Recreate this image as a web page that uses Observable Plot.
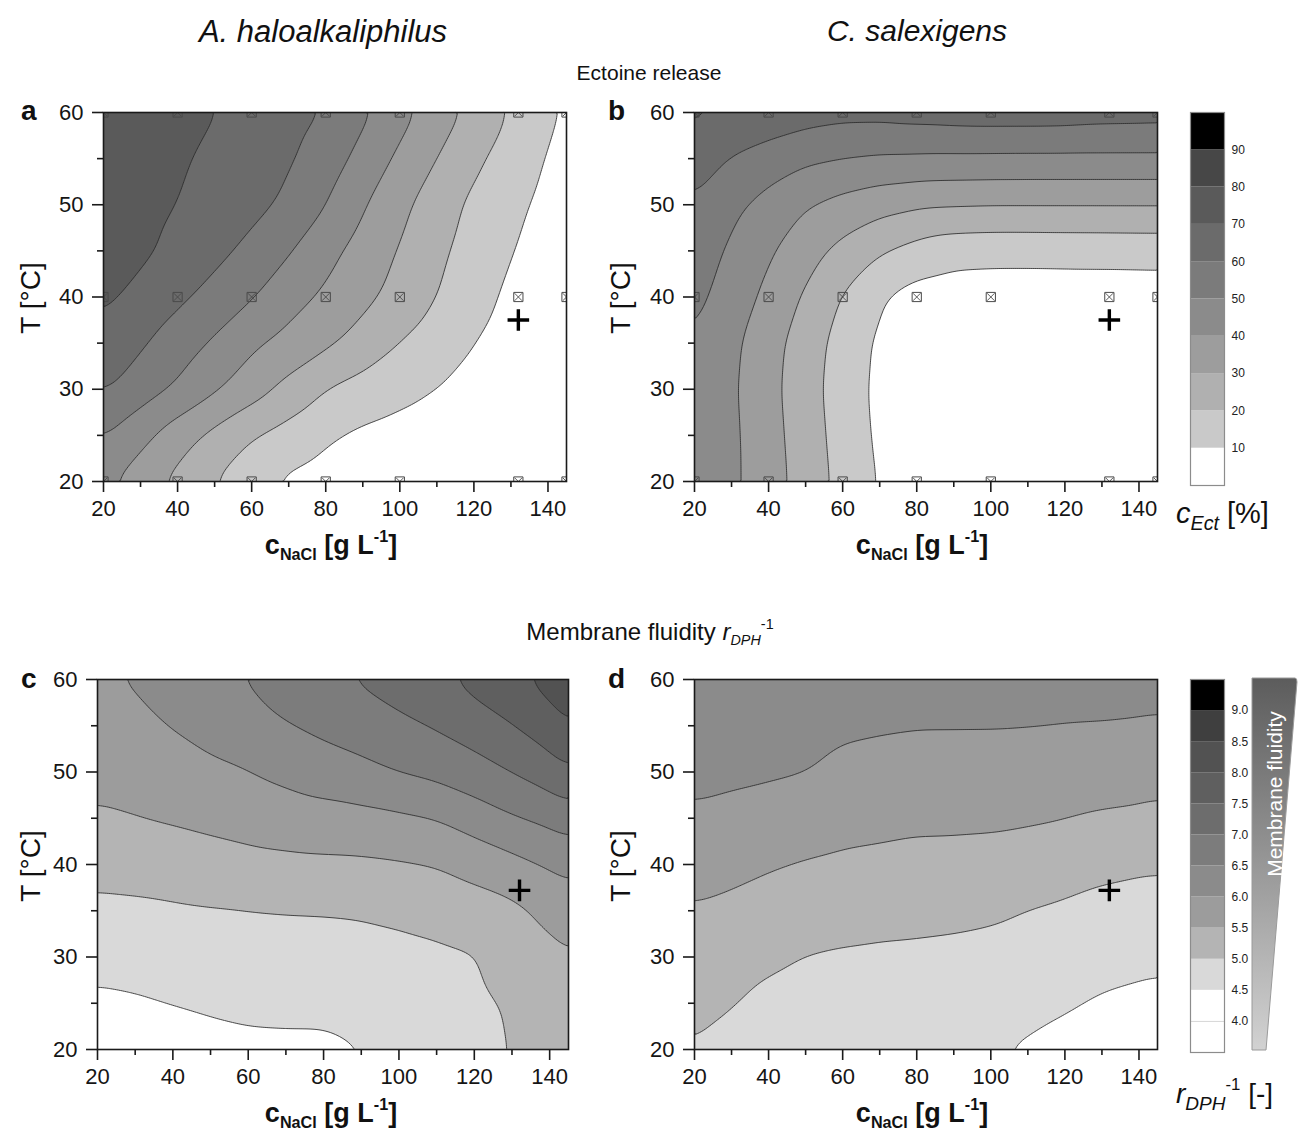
<!DOCTYPE html>
<html>
<head>
<meta charset="utf-8">
<script src="https://cdn.jsdelivr.net/npm/d3@7"></script>
<script src="https://cdn.jsdelivr.net/npm/@observablehq/plot@0.6"></script>
<style>
html,body{margin:0;padding:0;background:#fff;}
#root{position:relative;width:1298px;height:1142px;overflow:hidden;font-family:"Liberation Sans",Arial,Helvetica,sans-serif;color:#111;}
.t{position:absolute;white-space:nowrap;line-height:1;}
.ctr{transform:translateX(-50%);}
.rot{transform:translate(-50%,-50%) rotate(-90deg);}
.sub{font-size:60%;vertical-align:-0.35em;}
.sup{font-size:60%;vertical-align:0.75em;}
.sub7{font-size:68%;vertical-align:-0.35em;}
</style>
</head>
<body>
<div id="root"></div>
<script>
// ---------- data ----------
const xGrid = [20, 30, 40, 50, 60, 70, 80, 90, 100, 110, 120, 130, 140, 145]; // c NaCl [g/L]
const tGrid = [20, 25, 30, 35, 40, 45, 50, 55, 60];                          // T [°C]

// panel a: ectoine release A. haloalkaliphilus [%] (rows = tGrid, cols = xGrid)
const ectA = [
  [42.3, 34.6, 27.1, 19.9, 12.9, 8.0, 6, 5, 4, 3, 2, 1, 0, 0],
  [50.8, 43.0, 34.6, 27.3, 20.7, 15.9, 11.4, 8, 6, 4, 3, 2, 1, 0],
  [61.2, 55.0, 48.6, 41.4, 34.3, 27.0, 19.8, 16.5, 13.2, 9.9, 7, 4, 1, 0],
  [67.5, 61.3, 55.0, 48.7, 42.0, 36.7, 31.9, 26.1, 19.8, 15.0, 10.2, 5.5, 1, 0],
  [72.0, 67.2, 62.1, 56.5, 50.6, 44.2, 38.1, 32.5, 26.5, 19.9, 13.9, 7.9, 1.8, 0],
  [74.0, 72.0, 67.4, 62.8, 57.3, 50.7, 43.1, 36.0, 29.3, 22.1, 16.1, 10.6, 5.0, 2.2],
  [75.5, 73.0, 69.9, 66.3, 62.7, 58.1, 50.2, 40.9, 32.6, 24.7, 17.9, 12.6, 7.4, 4.7],
  [76.0, 74.0, 71.3, 67.9, 64.6, 61.3, 55.2, 46.8, 38.0, 30.0, 22.0, 15.5, 9.4, 6.3],
  [77.0, 75.0, 73.0, 70.3, 67.0, 63.4, 59.8, 52.0, 43.5, 35.2, 27.2, 19.1, 11.7, 8.2]
];
// panel b: ectoine release C. salexigens [%]
const ectB = [
  [48.0, 42.0, 34.4, 25.7, 16.9, 9.0, 5, 3, 2, 2, 2, 2, 2, 2],
  [48.3, 42.0, 33.8, 24.9, 16.0, 8.0, 5, 3, 2, 2, 2, 2, 2, 2],
  [48.6, 41.5, 33.1, 24.1, 15.2, 7.5, 5, 3, 2, 2, 2, 2, 2, 2],
  [49.8, 42.3, 33.9, 25.0, 16.1, 8.0, 6, 5, 5, 5, 5, 5, 5, 5],
  [52.8, 45.4, 37.6, 28.6, 19.4, 10.4, 6, 5, 5, 5, 5, 5, 5, 5],
  [56.1, 48.2, 41.4, 33.8, 27.0, 20.9, 16.3, 13.5, 13.0, 13.0, 13.2, 13.3, 13.5, 13.6],
  [59.2, 52.5, 46.5, 40.6, 36.6, 33.4, 31.3, 30.7, 30.3, 30.3, 30.3, 30.3, 30.3, 30.3],
  [64.9, 59.3, 55.2, 51.7, 49.9, 48.6, 48.4, 48.2, 48.1, 48.0, 48.0, 48.0, 48.0, 48.0],
  [72.0, 68.5, 67.0, 64.5, 63.3, 63.5, 64.5, 65.2, 65.5, 65.5, 65.3, 64.5, 64.3, 64.0]
];
// panel c: membrane fluidity A. haloalkaliphilus [-]
const fluC = [
  [4.17, 4.22, 4.30, 4.36, 4.40, 4.41, 4.41, 4.49, 4.55, 4.60, 4.85, 5.02, 5.15, 5.20],
  [4.41, 4.45, 4.51, 4.56, 4.60, 4.61, 4.61, 4.67, 4.70, 4.75, 4.90, 5.05, 5.25, 5.30],
  [4.65, 4.68, 4.73, 4.76, 4.80, 4.81, 4.81, 4.84, 4.87, 4.91, 4.97, 5.25, 5.35, 5.47],
  [4.89, 4.91, 4.94, 4.97, 4.99, 5.01, 5.02, 5.04, 5.09, 5.16, 5.28, 5.38, 5.61, 5.77],
  [5.16, 5.19, 5.24, 5.30, 5.36, 5.39, 5.41, 5.42, 5.46, 5.52, 5.67, 5.85, 6.05, 6.16],
  [5.44, 5.49, 5.55, 5.62, 5.69, 5.76, 5.82, 5.86, 5.92, 6.01, 6.24, 6.46, 6.62, 6.76],
  [5.63, 5.68, 5.79, 5.91, 5.99, 6.12, 6.25, 6.37, 6.52, 6.63, 6.80, 7.01, 7.28, 7.47],
  [5.78, 5.86, 6.02, 6.16, 6.26, 6.47, 6.62, 6.74, 6.88, 7.05, 7.24, 7.49, 7.77, 8.02],
  [5.94, 6.04, 6.24, 6.40, 6.52, 6.80, 6.91, 7.05, 7.26, 7.37, 7.68, 7.86, 8.20, 8.30]
];
// panel d: membrane fluidity C. salexigens [-]
const fluD = [
  [4.97, 4.84, 4.64, 4.62, 4.62, 4.62, 4.62, 4.58, 4.53, 4.45, 4.35, 4.25, 4.20, 4.18],
  [5.13, 5.03, 4.87, 4.80, 4.78, 4.77, 4.76, 4.74, 4.68, 4.63, 4.55, 4.45, 4.40, 4.37],
  [5.30, 5.21, 5.09, 4.99, 4.95, 4.93, 4.92, 4.90, 4.86, 4.81, 4.74, 4.66, 4.61, 4.59],
  [5.46, 5.40, 5.31, 5.23, 5.18, 5.14, 5.12, 5.10, 5.07, 4.99, 4.93, 4.86, 4.83, 4.81],
  [5.69, 5.62, 5.54, 5.47, 5.42, 5.39, 5.36, 5.35, 5.33, 5.28, 5.20, 5.11, 5.06, 5.05],
  [5.94, 5.88, 5.82, 5.74, 5.66, 5.63, 5.59, 5.59, 5.58, 5.55, 5.51, 5.45, 5.42, 5.38],
  [6.10, 6.08, 6.05, 6.01, 5.90, 5.85, 5.81, 5.81, 5.80, 5.78, 5.75, 5.72, 5.69, 5.67],
  [6.24, 6.22, 6.19, 6.15, 6.06, 6.04, 6.02, 6.02, 6.02, 6.01, 5.99, 5.98, 5.96, 5.94],
  [6.38, 6.36, 6.33, 6.30, 6.25, 6.22, 6.20, 6.20, 6.20, 6.20, 6.20, 6.20, 6.18, 6.17]
];

// contour levels and grey shades
const ectLevels = [10, 20, 30, 40, 50, 60, 70, 80, 90];
const ectColors = ["#ffffff", "#c9c9c9", "#b0b0b0", "#9d9d9d", "#8b8b8b", "#7b7b7b", "#6b6b6b", "#5a5a5a", "#474747", "#000000"];
const ectLegendBands = [0, 10, 20, 30, 40, 50, 60, 70, 80, 90];
const ectLegendLabels = [10, 20, 30, 40, 50, 60, 70, 80, 90];

const fluLevels = [4.5, 5.0, 5.5, 6.0, 6.5, 7.0, 7.5, 8.0, 8.5, 9.0];
const fluColors = ["#ffffff", "#d9d9d9", "#b4b4b4", "#9c9c9c", "#8b8b8b", "#7c7c7c", "#6d6d6d", "#5f5f5f", "#525252", "#3f3f3f", "#000000"];
const fluLegendBands = [3.5, 4.0, 4.5, 5.0, 5.5, 6.0, 6.5, 7.0, 7.5, 8.0, 8.5, 9.0];
const fluLegendLabels = [4.0, 4.5, 5.0, 5.5, 6.0, 6.5, 7.0, 7.5, 8.0, 8.5, 9.0];

// experimental design points (panels a, b) and the optimum marker
const designX = [20, 40, 60, 80, 100, 132, 145];
const designT = [20, 40, 60];
const optX = [132];
const optTtop = [37.5];
const optTbottom = [37.2];

const xMajor = [20, 40, 60, 80, 100, 120, 140];
const xMinor = [30, 50, 70, 90, 110, 130];
const yMajor = [20, 30, 40, 50, 60];
const yMinor = [25, 35, 45, 55];

// ---------- helpers ----------
const root = document.getElementById("root");
const FONT = '"Liberation Sans", Arial, Helvetica, sans-serif';

function addHTML(html, cls, left, top, extra = "") {
  const d = document.createElement("div");
  d.className = "t " + cls;
  d.style.left = left + "px";
  d.style.top = top + "px";
  d.style.cssText += extra;
  d.innerHTML = html;
  root.appendChild(d);
  return d;
}
function place(node, left, top) {
  node.style.position = "absolute";
  node.style.left = left + "px";
  node.style.top = top + "px";
  root.appendChild(node);
}

function gridTable(values) {
  const out = [];
  tGrid.forEach((t, i) => xGrid.forEach((x, j) => out.push({x, t, v: values[i][j]})));
  return out;
}

function panel(values, levels, colors, m, withDesign, optT) {
  const design = [];
  designT.forEach(t => designX.forEach(x => design.push({x, t})));
  const opt = optX.map((x, i) => ({x, t: optT[i]}));
  return Plot.plot({
    width: 620, height: 480,
    marginLeft: m.l, marginRight: m.r, marginTop: m.t, marginBottom: m.b,
    style: {fontFamily: FONT, fontSize: "22px", color: "#151515", background: "transparent", overflow: "visible"},
    x: {domain: [20, 145]},
    y: {domain: [20, 60]},
    color: {type: "threshold", domain: levels, range: colors},
    marks: [
      Plot.contour(gridTable(values), {
        x: "x", y: "t", value: "v", fill: "value",
        thresholds: levels, interpolate: "barycentric", blur: 5,
        stroke: "#2a2a2a", strokeWidth: 0.85
      }),
      withDesign ? Plot.dot(design, {x: "x", y: "t", symbol: "square", r: 5.2, stroke: "#4a4a4a", strokeWidth: 1, fill: "none", clip: true}) : null,
      withDesign ? Plot.dot(design, {x: "x", y: "t", symbol: "times", r: 3.5, stroke: "#4a4a4a", strokeWidth: 0.9, clip: true}) : null,
      Plot.dot(opt, {x: "x", y: "t", symbol: "plus", r: 7, stroke: "#000", strokeWidth: 3.4}),
      Plot.frame({stroke: "#1a1a1a", strokeWidth: 1.6}),
      Plot.axisX({ticks: xMajor, tickSize: 11, tickPadding: 8, label: null, tickFormat: d => d, stroke: "#1a1a1a", strokeWidth: 1.6}),
      Plot.axisX({ticks: xMinor, tickSize: 6, label: null, tickFormat: () => "", stroke: "#1a1a1a", strokeWidth: 1.6}),
      Plot.axisY({ticks: yMajor, tickSize: 11, tickPadding: 9, label: null, tickFormat: d => d, stroke: "#1a1a1a", strokeWidth: 1.6}),
      Plot.axisY({ticks: yMinor, tickSize: 6, label: null, tickFormat: () => "", stroke: "#1a1a1a", strokeWidth: 1.6})
    ]
  });
}

function legend(bands, step, labels, levels, colors, domain, fmt, rules) {
  return Plot.plot({
    width: 100, height: 400,
    marginLeft: 10, marginRight: 56, marginTop: 12, marginBottom: 15,
    style: {fontFamily: FONT, fontSize: "12px", color: "#222", background: "transparent", overflow: "visible"},
    x: {domain: [0, 1], axis: null},
    y: {domain: domain, axis: null},
    color: {type: "threshold", domain: levels, range: colors},
    marks: [
      Plot.rect(bands, {x1: 0, x2: 1, y1: d => d, y2: d => d + step, fill: d => d + step / 2}),
      rules ? Plot.ruleY(rules, {x1: 0, x2: 1, stroke: "#d6d6d6", strokeWidth: 1}) : null,
      Plot.frame({stroke: "#8c8c8c", strokeWidth: 1.2}),
      Plot.text(labels, {x: 1, y: d => d, text: fmt, textAnchor: "start", dx: 7, fill: "#222"})
    ]
  });
}

// ---------- titles ----------
addHTML("A. haloalkaliphilus", "ctr", 323, 16, "font-size:31px;font-style:italic;");
addHTML("C. salexigens", "ctr", 917, 16, "font-size:30px;font-style:italic;");
addHTML("Ectoine release", "ctr", 649, 62, "font-size:21px;");
addHTML('Membrane fluidity <i>r</i><span class="sub"><i>DPH</i></span><span class="sup">-1</span>', "ctr", 650, 617, "font-size:24px;");

// ---------- panels ----------
const mTopL = {l: 103, r: 54, t: 22, b: 89};
const mTopR = {l: 104, r: 53, t: 22, b: 89};
const mBotL = {l: 97, r: 52, t: 22, b: 88};
const mBotR = {l: 104, r: 53, t: 22, b: 88};

place(panel(ectA, ectLevels, ectColors, mTopL, true, optTtop), 0, 90);
place(panel(ectB, ectLevels, ectColors, mTopR, true, optTtop), 590, 90);
place(panel(fluC, fluLevels, fluColors, mBotL, false, optTbottom), 0, 657);
place(panel(fluD, fluLevels, fluColors, mBotR, false, optTbottom), 590, 657);

// panel letters
addHTML("a", "", 21, 97, "font-size:28px;font-weight:bold;");
addHTML("b", "", 608, 97, "font-size:28px;font-weight:bold;");
addHTML("c", "", 21, 665, "font-size:28px;font-weight:bold;");
addHTML("d", "", 608, 665, "font-size:28px;font-weight:bold;");

// axis titles
const xTitle = 'c<span class="sub">NaCl</span> [g L<span class="sup">-1</span>]';
addHTML(xTitle, "ctr", 331, 528, "font-size:27px;font-weight:bold;");
addHTML(xTitle, "ctr", 922, 528, "font-size:27px;font-weight:bold;");
addHTML(xTitle, "ctr", 331, 1096, "font-size:27px;font-weight:bold;");
addHTML(xTitle, "ctr", 922, 1096, "font-size:27px;font-weight:bold;");
addHTML("T [°C]", "rot", 31, 298, "font-size:28px;");
addHTML("T [°C]", "rot", 621, 298, "font-size:28px;");
addHTML("T [°C]", "rot", 31, 866, "font-size:28px;");
addHTML("T [°C]", "rot", 621, 866, "font-size:28px;");

// ---------- legends ----------
place(legend(ectLegendBands, 10, ectLegendLabels, ectLevels, ectColors, [0, 100], d => String(d), null), 1180, 100);
place(legend(fluLegendBands, 0.5, fluLegendLabels, fluLevels, fluColors, [3.5, 9.5], d => d.toFixed(1), [4.0]), 1180, 667);

addHTML('<i>c<span class="sub7">Ect</span></i> [%]', "", 1176, 499, "font-size:29px;");
addHTML('<i>r<span class="sub7">DPH</span></i><span class="sup">-1</span> [-]', "", 1176, 1077, "font-size:28px;");

// fluidity wedge
const ns = "http://www.w3.org/2000/svg";
const w = document.createElementNS(ns, "svg");
w.setAttribute("width", 50); w.setAttribute("height", 380);
w.innerHTML = `<defs><linearGradient id="wg" x1="0" y1="0" x2="0" y2="1">
<stop offset="0" stop-color="#5c5c5c"/><stop offset="1" stop-color="#d2d2d2"/></linearGradient></defs>
<path d="M2,2 L45,2 Q47,2 47,6 L16,374 L2,374 Z" fill="url(#wg)" stroke="#9a9a9a" stroke-width="1"/>
<text transform="translate(24,118) rotate(-90)" text-anchor="middle" dominant-baseline="central" fill="#fff" font-family='${FONT}' font-size="21">Membrane fluidity</text>`;
place(w, 1250, 676);
</script>
</body>
</html>
